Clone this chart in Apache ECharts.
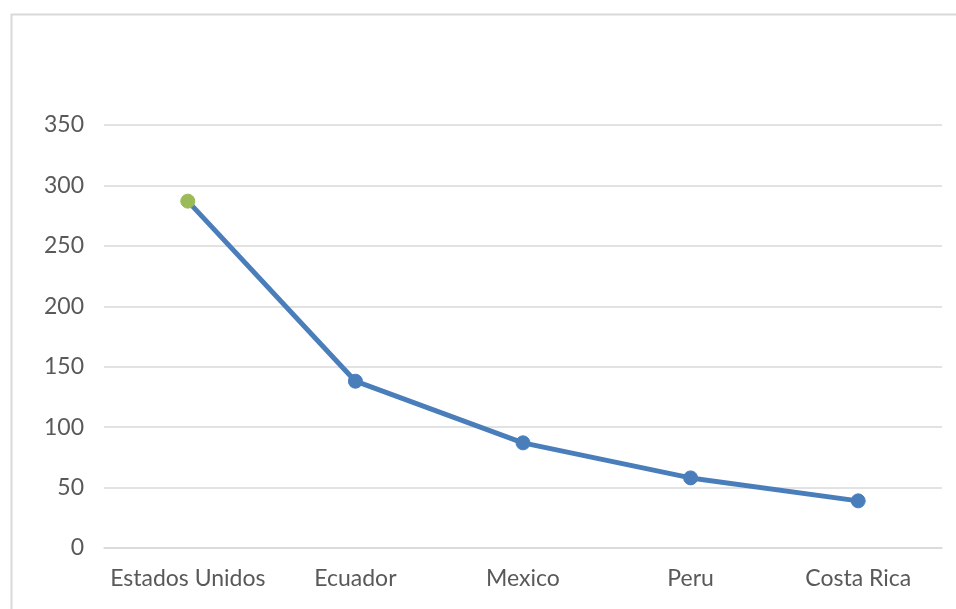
<!DOCTYPE html>
<html>
<head>
<meta charset="utf-8">
<script src="https://cdn.jsdelivr.net/npm/echarts@6/dist/echarts.min.js"></script>
<style>
html,body{margin:0;padding:0;background:#fff;}
#chart{width:956px;height:609px;}
</style>
</head>
<body>
<div id="chart"></div>
<script>
const categories = ["Estados Unidos", "Ecuador", "Mexico", "Peru", "Costa Rica"];
const values = [287, 138, 87, 58, 39];
const yTicks = [0, 50, 100, 150, 200, 250, 300, 350];

const lineColor = "#4A7EBB";
const firstColor = "#9BBB59";
const textColor = "#595959";
const gridColor = "#D9D9D9";
const fontFamily = "Lato, 'Open Sans', sans-serif";

const chart = echarts.init(document.getElementById('chart'), null, {renderer: 'canvas'});
const seriesData = values.map((v, i) => i === 0 ? {value: v, itemStyle: {color: firstColor, borderColor: firstColor}} : v);

chart.setOption({
  animation: false,
  backgroundColor: '#fff',
  graphic: [{
    type: 'rect',
    shape: {x: 11.5, y: 14.5, width: 1000, height: 700},
    style: {fill: 'none', stroke: gridColor, lineWidth: 2},
    silent: true
  }],
  grid: {left: 104, right: 14, top: 125, bottom: 61, containLabel: false},
  xAxis: {
    type: 'category',
    data: categories,
    boundaryGap: true,
    axisLine: {show: true, lineStyle: {color: gridColor, width: 1.5}},
    axisTick: {show: false},
    axisLabel: {color: textColor, fontSize: 23, fontFamily: fontFamily, margin: 19, interval: 0}
  },
  yAxis: {
    type: 'value',
    min: yTicks[0],
    max: yTicks[yTicks.length - 1],
    interval: 50,
    axisLine: {show: false},
    axisTick: {show: false},
    axisLabel: {color: textColor, fontSize: 23, fontFamily: fontFamily, margin: 20},
    splitLine: {show: true, lineStyle: {color: gridColor, width: 1.5}}
  },
  series: [{
    type: 'line',
    data: seriesData,
    symbol: 'circle',
    symbolSize: 14,
    lineStyle: {color: lineColor, width: 5},
    itemStyle: {color: lineColor, borderColor: lineColor}
  }]
});
</script>
</body>
</html>
